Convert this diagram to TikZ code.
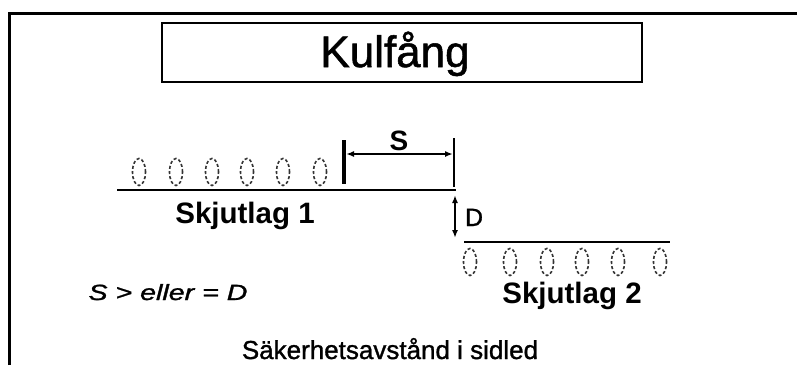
\documentclass[tikz,border=0pt]{standalone}
\usepackage{fontspec}
\setmainfont{Liberation Sans}
\newfontfamily\heavyfont[FakeBold=1.2]{Liberation Sans}
\usetikzlibrary{shapes.geometric,arrows.meta}

\begin{document}
\begin{tikzpicture}[x=1pt,y=-1pt,
    shot/.style={draw=black!80, ellipse, dash pattern=on 3pt off 2.2pt, line width=1.6pt,
                 minimum width=13pt, minimum height=27pt, inner sep=0pt},
    layer/.style={line width=1.6pt},
    bar/.style={line width=2.2pt},
    dimline/.style={line width=2pt, {Latex[length=8pt,width=6pt]}-{Latex[length=8pt,width=6pt]}},
    lbl/.style={anchor=base, inner sep=0pt}]
  \useasboundingbox (0,0) rectangle (797,365);

  % frame and title
  \draw[line width=3pt] (9,365) -- (9,13) -- (797,13);
  \node[draw, line width=2.4pt, minimum width=480pt, minimum height=59pt] (title) at (402,52.5) {};
  \node[lbl] (titletext) at (395,67) {\fontsize{44}{50}\heavyfont Kulfång};

  % shooting layer 1
  \foreach \x [count=\i] in {139,176,212,247,283,320}
    \node[shot] (a\i) at (\x,172) {};
  \coordinate (l1w) at (117,190);
  \coordinate (l1e) at (456,190);
  \draw[layer] (l1w) -- (l1e);
  \node[lbl] (lag1) at (245,223) {\fontsize{29.5}{34}\selectfont\bfseries Skjutlag 1};

  % S
  \coordinate (sl) at (344,140);
  \coordinate (slb) at (344,184);
  \coordinate (sr) at (454,138);
  \coordinate (srb) at (454,187);
  \draw[line width=3.5pt] (sl) -- (slb);
  \draw[bar] (sr) -- (srb);
  \coordinate (sa) at (346,154);
  \coordinate (sb) at (453,154);
  \draw[dimline] (sa) -- (sb);
  \node[lbl] (slabel) at (399,150) {\fontsize{28}{32}\selectfont\bfseries S};

  % D
  \coordinate (dt) at (455,195);
  \coordinate (db) at (455,238);
  \draw[dimline, line width=1.8pt] (dt) -- (db);
  \node[lbl] (dlabel) at (474,226) {\fontsize{25}{29}\heavyfont D};

  % shooting layer 2
  \coordinate (l2w) at (464,242);
  \coordinate (l2e) at (670,242);
  \draw[layer] (l2w) -- (l2e);
  \foreach \x [count=\i] in {470,510,547,582,618,660}
    \node[shot] (b\i) at (\x,262) {};
  \node[lbl] (lag2) at (572,303) {\fontsize{29.5}{34}\selectfont\bfseries Skjutlag 2};

  % texts
  \node[lbl] (rule) at (168,300) {\scalebox{1.3}[1]{\fontsize{22}{26}\heavyfont\itshape S > eller = D}};
  \node[lbl] (caption) at (390,359) {\fontsize{26}{30}\heavyfont Säkerhetsavstånd i sidled};
\end{tikzpicture}
\end{document}
